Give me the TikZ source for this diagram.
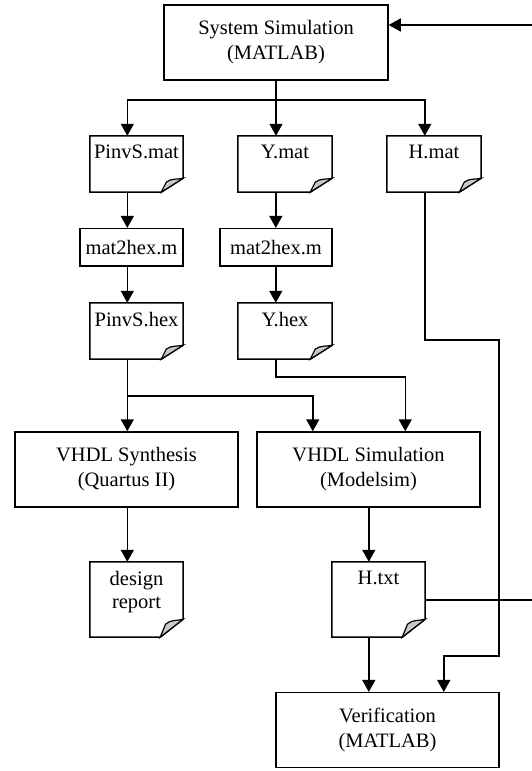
\documentclass[tikz,border=0pt]{standalone}
\usepackage{fontspec}
\setmainfont{Liberation Serif}
\usetikzlibrary{arrows.meta,calc}
\definecolor{flap}{RGB}{200,200,200}
\tikzset{
  conn/.style={line width=1.5pt},
  arr/.style={line width=1.5pt,-{Triangle[length=12pt,width=13pt]}},
  procbox/.style={draw,line width=1.5pt,rectangle,inner sep=0pt,align=center,
    font=\fontsize{20.5}{25}\selectfont},
  docbox/.style={rectangle,inner sep=0pt},
  doctext/.style={anchor=north,inner sep=0pt,align=center,
    font=\fontsize{20.5}{23}\selectfont},
}
\newcommand\docshape[3]{%
  \draw[conn] (#1.north west) -- (#1.north east) -- ([yshift=#3]#1.south east)
    -- ([xshift=-#2]#1.south east) -- (#1.south west) -- cycle;
  \filldraw[conn,fill=flap,line width=1.2pt] ([xshift=-#2]#1.south east)
    -- ([xshift={-0.77*#2},yshift={0.72*#3}]#1.south east)
    .. controls ([xshift={-0.55*#2},yshift={1.0*#3}]#1.south east)
       and ([xshift={-0.25*#2},yshift={0.9*#3}]#1.south east)
    .. ([yshift=#3]#1.south east) -- cycle;
}
\begin{document}
\begin{tikzpicture}[x=1pt,y=-1pt]
\useasboundingbox (0,0) rectangle (532,771);
% process boxes
\node[procbox,minimum width=224pt,minimum height=75pt] (sys) at (276,42.5) {System Simulation\\(MATLAB)};
\node[procbox,minimum width=103pt,minimum height=37.3pt] (m1) at (131.5,247.3) {mat2hex.m};
\node[procbox,minimum width=112pt,minimum height=37.3pt] (m2) at (276,247.3) {mat2hex.m};
\node[procbox,minimum width=223pt,minimum height=75pt] (syn) at (126.5,469.5) {VHDL Synthesis\\(Quartus II)};
\node[procbox,minimum width=223pt,minimum height=75pt] (sim) at (368.5,469.5) {VHDL Simulation\\(Modelsim)};
\node[procbox,minimum width=223pt,minimum height=74.6pt] (ver) at (387.5,730) {Verification\\(MATLAB)};
% documents
\node[docbox,minimum width=93pt,minimum height=56pt] (pm) at (136.5,164) {};
\node[docbox,minimum width=94pt,minimum height=56pt] (ym) at (285,164) {};
\node[docbox,minimum width=94pt,minimum height=56pt] (hm) at (434,164) {};
\node[docbox,minimum width=93pt,minimum height=56pt] (ph) at (136.5,331) {};
\node[docbox,minimum width=94pt,minimum height=56pt] (yh) at (285,331) {};
\node[docbox,minimum width=93pt,minimum height=75pt] (dr) at (136.5,599.5) {};
\node[docbox,minimum width=93pt,minimum height=75pt] (ht) at (378.5,599.5) {};
\docshape{pm}{22pt}{14pt}
\docshape{ym}{22pt}{14pt}
\docshape{hm}{22pt}{14pt}
\docshape{ph}{22pt}{14pt}
\docshape{yh}{22pt}{14pt}
\docshape{dr}{23pt}{18pt}
\docshape{ht}{23pt}{18pt}
\node[doctext] (tpm) at ([yshift=-9pt]pm.north) {PinvS.mat};
\node[doctext] (tym) at ([yshift=-9pt]ym.north) {Y.mat};
\node[doctext] (thm) at ([yshift=-9pt]hm.north) {H.mat};
\node[doctext] (tph) at ([yshift=-9pt]ph.north) {PinvS.hex};
\node[doctext] (tyh) at ([yshift=-9pt]yh.north) {Y.hex};
\node[doctext] (tdr) at ([yshift=-9.5pt]dr.north) {design\\report};
\node[doctext] (tht) at ([yshift=-9.5pt]ht.north) {H.txt};
% anchor coordinates
\coordinate (pmN) at ([xshift=37.5pt]pm.north west);
\coordinate (pmS) at ([xshift=37.5pt]pm.south west);
\coordinate (ymS) at ([xshift=38pt]ym.south west);
\coordinate (hmN) at ([xshift=38pt]hm.north west);
\coordinate (hmS) at ([xshift=38pt]hm.south west);
\coordinate (phS) at ([xshift=37.5pt]ph.south west);
\coordinate (yhS) at ([xshift=38pt]yh.south west);
\coordinate (simN1) at ([xshift=56.5pt]sim.north west);
\coordinate (simN2) at ([xshift=149pt]sim.north west);
\coordinate (htN) at ([xshift=37pt]ht.north west);
\coordinate (htE) at ([yshift=-0.5pt]ht.east);
\coordinate (verN2) at ([xshift=-56pt]ver.north east);
% connectors
\draw[arr] (sys.south) -- ++(0,19) -| (pmN);
\draw[arr] (sys.south) -- (sys.south |- ym.north);
\draw[arr] (sys.south) -- ++(0,19) -| (hmN);
\draw[arr] (pmS) -- (pmS |- m1.north);
\draw[arr] (pmS |- m1.south) -- (pmS |- ph.north);
\draw[arr] (ymS) -- (ymS |- m2.north);
\draw[arr] (ymS |- m2.south) -- (ymS |- yh.north);
\draw[arr] (hmS) -- ++(0,148) -- ++(74,0) -- ++(0,316) -| (verN2);
\draw[arr] (phS) -- (phS |- syn.north);
\draw[arr] (phS) -- ++(0,37) -| (simN1);
\draw[arr] (yhS) -- ++(0,18) -| (simN2);
\draw[arr] (phS |- syn.south) -- (phS |- dr.north);
\draw[arr] (htN |- sim.south) -- (htN);
\draw[arr] (htN |- ht.south) -- (htN |- ver.north);
\draw[arr] (htE) -- ++(108,0) |- ([yshift=17.5pt]sys.east);
\end{tikzpicture}
\end{document}
